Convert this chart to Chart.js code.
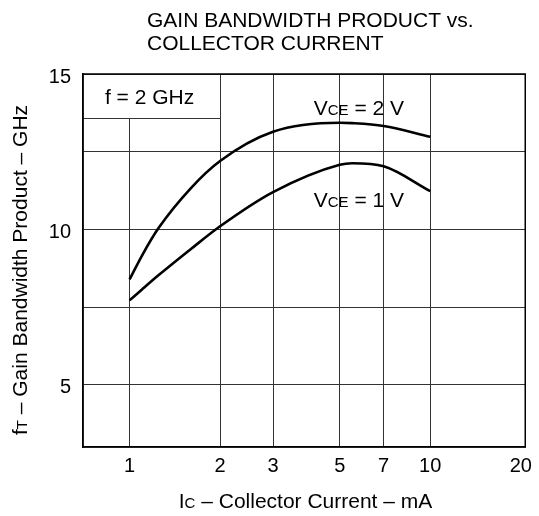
<!DOCTYPE html>
<html>
<head>
<meta charset="utf-8">
<title>Gain Bandwidth Product vs. Collector Current</title>
<script src="https://cdn.jsdelivr.net/npm/chart.js@4/dist/chart.umd.min.js"></script>
<style>
  html, body { margin: 0; padding: 0; background: #fff; }
  #wrap { width: 539px; height: 516px; }
</style>
</head>
<body>
<div id="wrap"><canvas id="gbwChart" width="539" height="516"></canvas></div>
<script>
// Curve values (Ic in mA, fT in GHz)
const collectorCurrent = [1, 1.1, 1.25, 1.6, 2, 3, 5, 5.5, 7, 10];
const ftVce2 = [8.39, 9.16, 10.05, 11.33, 12.2, 13.14, 13.43, 13.42, 13.33, 12.98];
const ftVce1 = [7.72, 8.07, 8.53, 9.37, 10.1, 11.2, 12.08, 12.13, 12.03, 11.23];

// Axis ticks
const xTicks = [1, 2, 3, 5, 7, 10, 20];
const yTicks = [5, 7.5, 10, 12.5, 15];
const yLabelled = [5, 10, 15];

// Texts
const titleLines = ['GAIN BANDWIDTH PRODUCT vs.', 'COLLECTOR CURRENT'];
const seriesNames = ['2 V', '1 V'];
const conditionText = 'f = 2 GHz';

(function() {
  'use strict';

  const FONT = '"Liberation Sans", Arial, Helvetica, sans-serif';
  const INK = '#000';

  // Draw text made of parts with different sizes on one baseline
  function drawRich(ctx, parts, x, y, align) {
    const widths = parts.map(p => {
      ctx.font = p.size + 'px ' + FONT;
      return ctx.measureText(p.text).width;
    });
    const total = widths.reduce((a, b) => a + b, 0);
    let cx = align === 'center' ? x - total / 2 : x;
    ctx.textAlign = 'left';
    ctx.textBaseline = 'alphabetic';
    parts.forEach((p, i) => {
      ctx.font = p.size + 'px ' + FONT;
      ctx.fillText(p.text, cx, y);
      cx += widths[i];
    });
  }

  function toPoints(xs, ys) {
    return xs.map((x, i) => ({ x: x, y: ys[i] }));
  }

  // Condition box, frame and all the free text
  const decorations = {
    id: 'decorations',
    beforeDatasetsDraw(chart) {
      const ctx = chart.ctx;
      const area = chart.chartArea;
      const xs = chart.scales.x;
      const ys = chart.scales.y;
      const boxRight = xs.getPixelForValue(2);
      const boxBottom = ys.getPixelForValue(13.57);

      ctx.save();
      ctx.fillStyle = '#fff';
      ctx.fillRect(area.left + 1, area.top + 1, boxRight - area.left - 1.5, boxBottom - area.top - 1);
      ctx.strokeStyle = '#333';
      ctx.lineWidth = 1;
      ctx.beginPath();
      ctx.moveTo(area.left, Math.round(boxBottom) + 0.5);
      ctx.lineTo(boxRight, Math.round(boxBottom) + 0.5);
      ctx.stroke();

      ctx.fillStyle = INK;
      ctx.font = '21px ' + FONT;
      ctx.textAlign = 'center';
      ctx.textBaseline = 'alphabetic';
      ctx.fillText(conditionText, (area.left + boxRight) / 2 - 2, ys.getPixelForValue(14.03));
      ctx.restore();
    },
    afterDraw(chart) {
      const ctx = chart.ctx;
      const area = chart.chartArea;
      const xs = chart.scales.x;
      const ys = chart.scales.y;

      ctx.save();
      // frame
      ctx.strokeStyle = INK;
      ctx.lineWidth = 1.5;
      ctx.strokeRect(area.left, area.top, area.right - area.left, area.bottom - area.top);

      ctx.fillStyle = INK;

      // title
      ctx.font = '21px ' + FONT;
      ctx.textAlign = 'left';
      ctx.textBaseline = 'alphabetic';
      ctx.fillText(titleLines[0], 147, 27);
      ctx.fillText(titleLines[1], 147, 50);

      // curve labels
      const labelX = xs.getPixelForValue(5.79);
      drawRich(ctx, [
        { text: 'V', size: 21 }, { text: 'CE', size: 15 }, { text: ' = ' + seriesNames[0], size: 21 }
      ], labelX, ys.getPixelForValue(13.69), 'center');
      drawRich(ctx, [
        { text: 'V', size: 21 }, { text: 'CE', size: 15 }, { text: ' = ' + seriesNames[1], size: 21 }
      ], labelX, ys.getPixelForValue(10.73), 'center');

      // x axis title
      drawRich(ctx, [
        { text: 'I', size: 21 }, { text: 'C', size: 15 }, { text: ' \u2013 Collector Current \u2013 mA', size: 21 }
      ], 305.5, 508, 'center');

      // y axis title
      ctx.translate(27, 270);
      ctx.rotate(-Math.PI / 2);
      drawRich(ctx, [
        { text: 'f', size: 21 }, { text: 'T', size: 15 }, { text: ' \u2013 Gain Bandwidth Product \u2013 GHz', size: 21 }
      ], 0, 0, 'center');
      ctx.restore();
    }
  };

  function init() {
    const canvas = document.getElementById('gbwChart');

    new Chart(canvas, {
      type: 'line',
      data: {
        datasets: [{
          label: 'VCE = 2 V',
          data: toPoints(collectorCurrent, ftVce2),
          borderColor: INK,
          borderWidth: 2.6,
          pointRadius: 0,
          fill: false,
          cubicInterpolationMode: 'monotone'
        }, {
          label: 'VCE = 1 V',
          data: toPoints(collectorCurrent, ftVce1),
          borderColor: INK,
          borderWidth: 2.6,
          pointRadius: 0,
          fill: false,
          cubicInterpolationMode: 'monotone'
        }]
      },
      options: {
        responsive: false,
        animation: false,
        layout: { padding: { top: 74, right: 12, left: 0, bottom: 0 } },
        plugins: {
          legend: { display: false },
          tooltip: { enabled: false },
          title: { display: false }
        },
        scales: {
          x: {
            type: 'logarithmic',
            min: 0.715,
            max: 20.7,
            afterBuildTicks: function(scale) {
              scale.ticks = xTicks.map(v => ({ value: v }));
            },
            afterFit: function(scale) {
              scale.height = 69;
            },
            grid: {
              color: function(c) {
                return c.tick && c.tick.value === 20 ? 'rgba(0,0,0,0)' : '#333';
              },
              lineWidth: 1,
              drawTicks: false
            },
            border: { color: INK, width: 1.5 },
            ticks: {
              color: INK,
              font: { family: FONT, size: 20 },
              padding: 7,
              maxRotation: 0,
              autoSkip: false,
              callback: function(value) {
                return xTicks.includes(value) ? String(value) : '';
              }
            }
          },
          y: {
            min: 3,
            max: 15,
            afterBuildTicks: function(scale) {
              scale.ticks = yTicks.map(v => ({ value: v }));
            },
            afterFit: function(scale) {
              scale.width = 83;
            },
            grid: { color: '#333', lineWidth: 1, drawTicks: false },
            border: { color: INK, width: 1.5 },
            ticks: {
              color: INK,
              font: { family: FONT, size: 20 },
              padding: 12,
              labelOffset: 3,
              callback: function(value) {
                return yLabelled.includes(value) ? String(value) : '';
              }
            }
          }
        }
      },
      plugins: [decorations]
    });
  }

  if (document.readyState === 'loading') {
    document.addEventListener('DOMContentLoaded', init);
  } else {
    init();
  }
})();
</script>
</body>
</html>
